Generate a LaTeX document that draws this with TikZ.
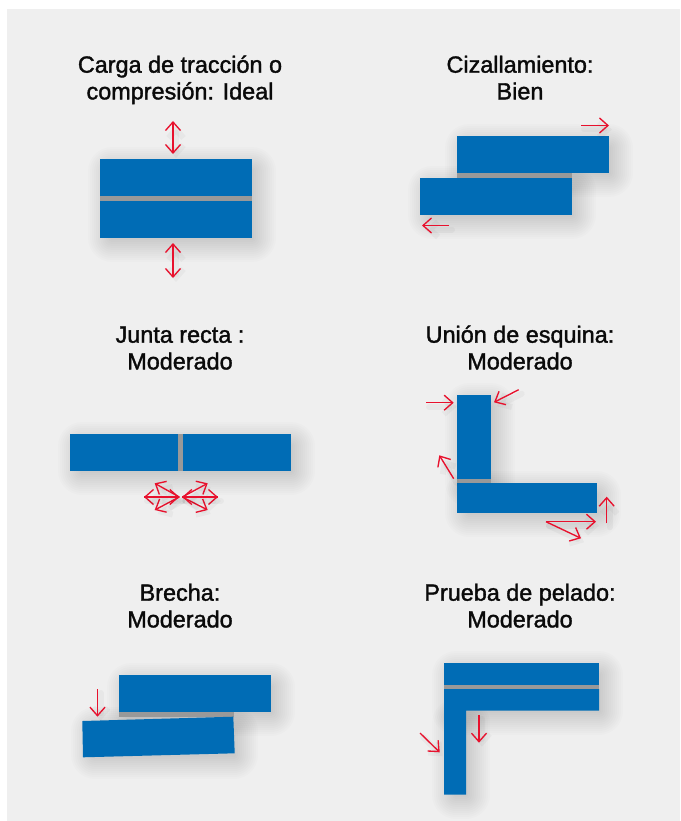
\documentclass[tikz,border=0pt]{standalone}
\usepackage{fontspec}
\usepackage{tikz}
\usetikzlibrary{arrows.meta}
\newfontfamily\titlefont[FakeBold=1.5]{Liberation Sans}
\definecolor{blockblue}{HTML}{006CB5}
\definecolor{gapgray}{HTML}{999999}
\definecolor{forcered}{HTML}{E8112D}
\definecolor{panelgray}{HTML}{EFEFEF}
\definecolor{titleblack}{HTML}{0A0A0A}
\tikzset{
  block/.style={fill=blockblue},
  gap/.style={fill=gapgray},
  glow/.style={preaction={draw=black, opacity=0.03, line width=6pt, line cap=round, transform canvas={shift={(3pt,-4pt)}}}},
  force/.style={glow, draw=forcered, line width=1.35pt, -{Straight Barb[length=8.5pt,width=15pt]}},
  dforce/.style={glow, draw=forcered, line width=1.35pt, {Straight Barb[length=8.5pt,width=15pt]}-{Straight Barb[length=8.5pt,width=15pt]}},
  heading/.style={align=center, text=titleblack, inner sep=0pt, font=\titlefont\fontsize{23.4}{26.7}\selectfont},
}
% soft shadow of a rectangle
\newcommand{\softshadow}[4]{
  \foreach \r/\c in {18/24pt,16/22pt,14/20pt,12/18pt,10/16pt,8/14pt,6/12pt,4/10pt,2/8pt,0/6pt,-2/4pt,-4/2pt}
    \fill[black, opacity=0.013, rounded corners=\c] ({#1+6-\r},{#2+6-\r}) rectangle ({#3+6+\r},{#4+6+\r});
}
\begin{document}
\begin{tikzpicture}[x=1pt, y=-1pt]
    \useasboundingbox (0,0) rectangle (680,821);
    \fill[panelgray] (7,9) rectangle (680,821);

    % Add titles
    \node[heading] (title_1) at (180,80.7) {\strut Carga de tracción o\\\strut compresión: Ideal};
    \node[heading] (title_2) at (520,80.7) {\strut Cizallamiento:\\\strut Bien};
    \node[heading] (title_3) at (180,350.7) {\strut Junta recta :\\\strut Moderado};
    \node[heading] (title_4) at (520,350.7) {\strut Unión de esquina:\\\strut Moderado};
    \node[heading] (title_5) at (180,608.7) {\strut Brecha:\\\strut Moderado};
    \node[heading] (title_6) at (520,608.7) {\strut Prueba de pelado:\\\strut Moderado};

    % Draw shadows
    \softshadow{100}{159}{252}{238}
    \softshadow{457}{136}{609}{173}
    \softshadow{420}{178}{572}{215}
    \softshadow{70}{434}{291}{471}
    \softshadow{457}{395}{491}{483}
    \softshadow{457}{483}{597}{513}
    \softshadow{119}{675}{271}{712}
    \softshadow{83}{719}{234}{755}
    \softshadow{444}{663}{599}{711}
    \softshadow{444}{711}{466}{795}

    % Draw blocks
    \fill[block] (100,159) rectangle (252,196);
    \fill[gap] (100,196) rectangle (252,201);
    \fill[block] (100,201) rectangle (252,238);

    \fill[block] (457,136) rectangle (609,173);
    \fill[gap] (457,173) rectangle (572,178);
    \fill[block] (420,178) rectangle (572,215);

    \fill[block] (70,434) rectangle (178,471);
    \fill[gap] (178,434) rectangle (183,471);
    \fill[block] (183,434) rectangle (291,471);

    \fill[block] (457,395) rectangle (491,479);
    \fill[gap] (457,479) rectangle (491,483);
    \fill[block] (457,483) rectangle (597,513);

    \fill[block] (119,675) rectangle (271,712);
    \fill[gap] (119,712) rectangle (234,717);
    \fill[block] (82.3,721) -- (233.3,716.7) -- (234.7,753.3) -- (83,757.3) -- cycle;

    \fill[block] (444,663) rectangle (599,685);
    \fill[gap] (444,685) rectangle (599,689);
    \fill[block] (444,689) -- (599,689) -- (599,710.7) -- (466,710.7) -- (466,794.7) -- (444,794.7) -- cycle;

    % Force points
    \coordinate (F_1_1) at (173,121);
    \coordinate (F_1_2) at (173,154);
    \coordinate (F_1_3) at (173,243);
    \coordinate (F_1_4) at (173,278);
    \coordinate (F_2_1) at (581,125.5);
    \coordinate (F_2_2) at (609,125.5);
    \coordinate (F_2_3) at (449,225.5);
    \coordinate (F_2_4) at (422,225.5);
    \coordinate (F_3_1) at (179.3,497);
    \coordinate (F_3_2) at (144,497);
    \coordinate (F_3_3) at (154.7,483.3);
    \coordinate (F_3_4) at (154.7,510);
    \coordinate (F_3_5) at (182.3,497);
    \coordinate (F_3_6) at (218,497);
    \coordinate (F_3_7) at (207.7,483.3);
    \coordinate (F_3_8) at (207.7,510);
    \coordinate (F_4_1) at (426,402.7);
    \coordinate (F_4_2) at (453.7,402.7);
    \coordinate (F_4_3) at (518.7,389.7);
    \coordinate (F_4_4) at (494,402.3);
    \coordinate (F_4_5) at (453.7,478.7);
    \coordinate (F_4_6) at (439.3,455.3);
    \coordinate (F_4_7) at (546,521.7);
    \coordinate (F_4_8) at (596,521.7);
    \coordinate (F_4_9) at (581,538.3);
    \coordinate (F_4_10) at (606.7,523.3);
    \coordinate (F_4_11) at (606.7,496.7);
    \coordinate (F_5_1) at (97.5,689);
    \coordinate (F_5_2) at (97.5,716.7);
    \coordinate (F_6_1) at (479,715);
    \coordinate (F_6_2) at (479,742.7);
    \coordinate (F_6_3) at (420,733);
    \coordinate (F_6_4) at (439.7,752.3);

    % Draw forces
    \draw[dforce] (F_1_1) -- (F_1_2);
    \draw[dforce] (F_1_3) -- (F_1_4);
    \draw[force] (F_2_1) -- (F_2_2);
    \draw[force] (F_2_3) -- (F_2_4);
    \draw[force] (F_3_1) -- (F_3_2);
    \draw[force] (F_3_1) -- (F_3_3);
    \draw[force] (F_3_1) -- (F_3_4);
    \draw[force] (F_3_5) -- (F_3_6);
    \draw[force] (F_3_5) -- (F_3_7);
    \draw[force] (F_3_5) -- (F_3_8);
    \draw[force] (F_3_2) -- (F_3_1);
    \draw[force] (F_3_6) -- (F_3_5);
    \draw[force] (F_4_1) -- (F_4_2);
    \draw[force] (F_4_3) -- (F_4_4);
    \draw[force] (F_4_5) -- (F_4_6);
    \draw[force] (F_4_7) -- (F_4_8);
    \draw[force] (F_4_7) -- (F_4_9);
    \draw[force] (F_4_10) -- (F_4_11);
    \draw[force] (F_5_1) -- (F_5_2);
    \draw[force] (F_6_1) -- (F_6_2);
    \draw[force] (F_6_3) -- (F_6_4);
\end{tikzpicture}
\end{document}
